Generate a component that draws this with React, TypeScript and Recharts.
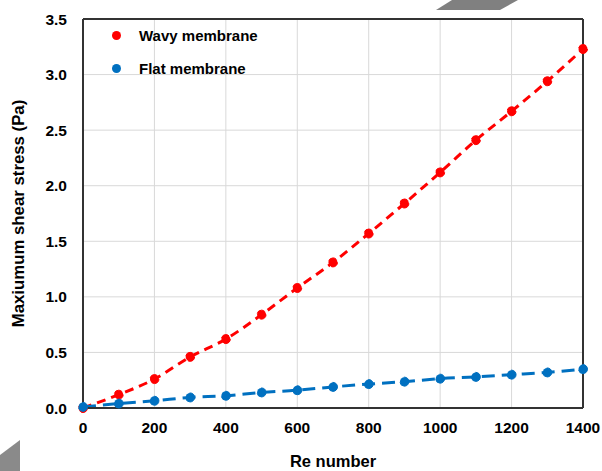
import React from "react";
import {
  LineChart,
  Line,
  XAxis,
  YAxis,
  CartesianGrid,
  ReferenceLine,
} from "recharts";

const reNumbers = [0, 100, 200, 300, 400, 500, 600, 700, 800, 900, 1000, 1100, 1200, 1300, 1400];
const wavyStress = [0, 0.12, 0.26, 0.46, 0.62, 0.84, 1.08, 1.31, 1.57, 1.84, 2.12, 2.41, 2.67, 2.94, 3.23];
const flatStress = [0.01, 0.04, 0.065, 0.095, 0.11, 0.14, 0.16, 0.19, 0.215, 0.237, 0.264, 0.28, 0.3, 0.32, 0.35];
const xTicks = [0, 200, 400, 600, 800, 1000, 1200, 1400];
const yTicks = [0, 0.5, 1.0, 1.5, 2.0, 2.5, 3.0, 3.5];
const seriesNames = ["Wavy membrane", "Flat membrane"];
const seriesColors = ["#ff0000", "#0070c0"];

const data = reNumbers.map((re, i) => ({ re, wavy: wavyStress[i], flat: flatStress[i] }));

const FONT = "'Liberation Sans', Arial, sans-serif";

export default function App() {
  return (
    <div style={{ position: "absolute", left: 0, top: 0, width: 602, height: 471, background: "#fff" }}>
      <LineChart
        width={602}
        height={471}
        data={data}
        margin={{ top: 19, right: 19, left: 8, bottom: 33 }}
      >
        <CartesianGrid stroke="#d9d9d9" strokeWidth={1} />
        <XAxis
          dataKey="re"
          type="number"
          domain={[0, 1400]}
          ticks={xTicks}
          tickLine={false}
          axisLine={{ stroke: "#333", strokeWidth: 2 }}
          tick={{ fill: "#000", fontSize: 15.5, fontWeight: "bold", fontFamily: FONT }}
          tickMargin={8}
          height={30}
          label={{
            value: "Re number",
            position: "insideBottom",
            offset: -29,
            style: { fill: "#000", fontSize: 16.5, fontWeight: "bold", fontFamily: FONT },
          }}
        />
        <YAxis
          type="number"
          domain={[0, 3.5]}
          ticks={yTicks}
          tickFormatter={(v: number) => v.toFixed(1)}
          tickLine={false}
          axisLine={{ stroke: "#333", strokeWidth: 2 }}
          tick={{ fill: "#000", fontSize: 15.5, fontWeight: "bold", fontFamily: FONT }}
          tickMargin={10}
          width={75}
          label={{
            value: "Maxiumum shear stress (Pa)",
            angle: -90,
            position: "insideLeft",
            offset: 10,
            style: { textAnchor: "middle", fill: "#000", fontSize: 16.8, fontWeight: "bold", fontFamily: FONT },
          }}
        />
        <ReferenceLine y={3.5} stroke="#333" strokeWidth={2} />
        <ReferenceLine x={1400} stroke="#333" strokeWidth={2} />
        <Line
          dataKey="wavy"
          name={seriesNames[0]}
          type="monotone"
          stroke={seriesColors[0]}
          strokeWidth={3}
          strokeDasharray="9 6"
          dot={{ r: 4.5, fill: seriesColors[0], stroke: seriesColors[0], strokeWidth: 1 }}
          isAnimationActive={false}
        />
        <Line
          dataKey="flat"
          name={seriesNames[1]}
          type="monotone"
          stroke={seriesColors[1]}
          strokeWidth={3}
          strokeDasharray="13 7"
          dot={{ r: 4.5, fill: seriesColors[1], stroke: seriesColors[1], strokeWidth: 1 }}
          isAnimationActive={false}
        />
      </LineChart>
      <div
        style={{
          position: "absolute",
          left: 112,
          top: 19,
          fontFamily: FONT,
          fontWeight: "bold",
          fontSize: 15,
          color: "#000",
        }}
      >
        {seriesNames.map((n, i) => (
          <div key={n} style={{ display: "flex", alignItems: "center", height: 33 }}>
            <span
              style={{
                display: "inline-block",
                width: 9,
                height: 9,
                borderRadius: "50%",
                background: seriesColors[i],
                marginRight: 18,
              }}
            />
            <span>{n}</span>
          </div>
        ))}
      </div>
      <div
        style={{
          position: "absolute",
          left: 436,
          top: 0,
          width: 82,
          height: 10,
          background: "#808080",
          clipPath: "polygon(16px 0, 82px 0, 64px 10px, 0 10px)",
        }}
      />
      <div
        style={{
          position: "absolute",
          left: 0,
          top: 440,
          width: 20,
          height: 31,
          background: "#8a8a8a",
          clipPath: "polygon(0 15px, 20px 0, 20px 31px, 0 31px)",
        }}
      />
    </div>
  );
}
